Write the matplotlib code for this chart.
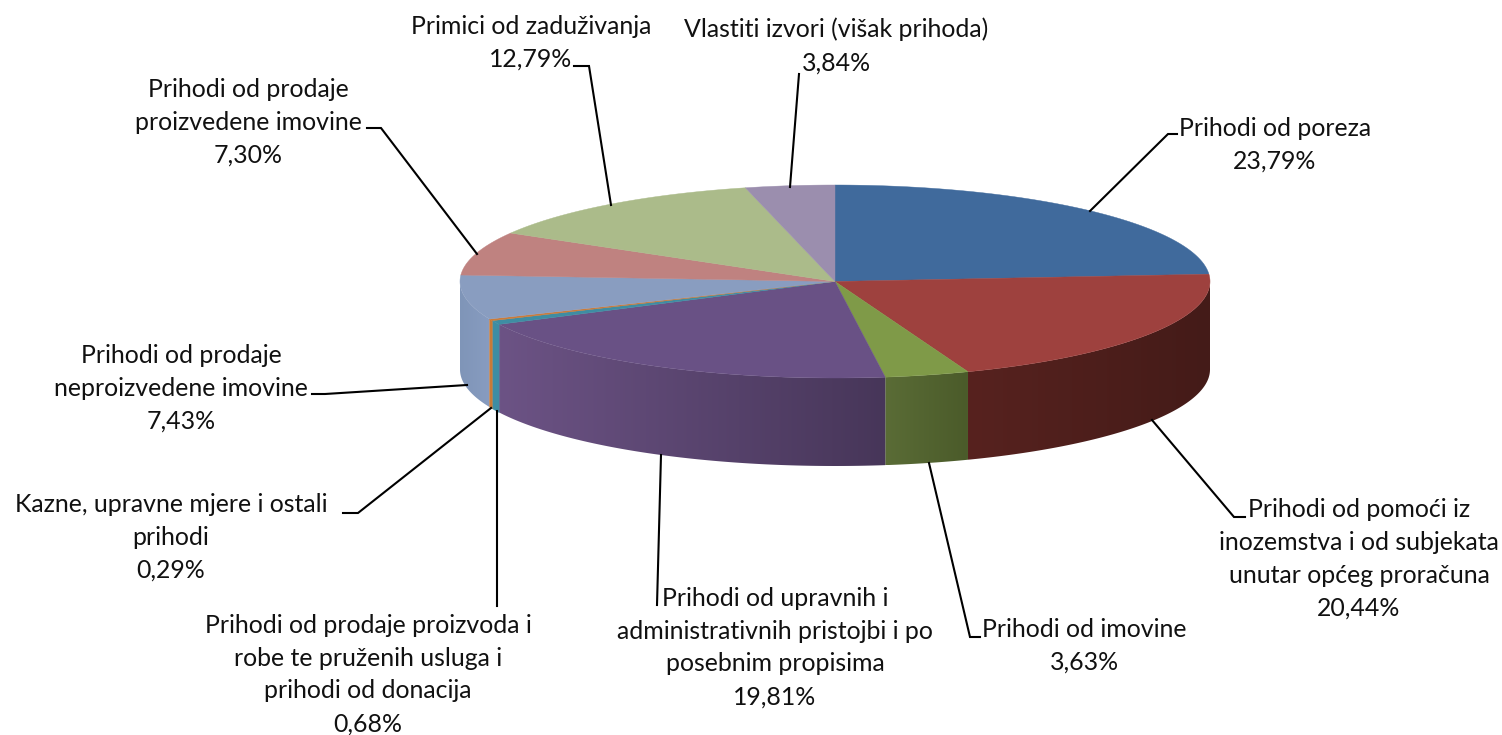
import numpy as np
import matplotlib
matplotlib.use("Agg")
import matplotlib.pyplot as plt
from matplotlib.colors import to_rgb
from matplotlib.patches import Polygon

categories = [
    "Prihodi od poreza",
    "Prihodi od pomoći iz\ninozemstva i od subjekata\nunutar općeg proračuna",
    "Prihodi od imovine",
    "Prihodi od upravnih i\nadministrativnih pristojbi i po\nposebnim propisima",
    "Prihodi od prodaje proizvoda i\nrobe te pruženih usluga i\nprihodi od donacija",
    "Kazne, upravne mjere i ostali\nprihodi",
    "Prihodi od prodaje\nneproizvedene imovine",
    "Prihodi od prodaje\nproizvedene imovine",
    "Primici od zaduživanja",
    "Vlastiti izvori (višak prihoda)",
]
values = [23.79, 20.44, 3.63, 19.81, 0.68, 0.29, 7.43, 7.30, 12.79, 3.84]
top_colors = ["#406A9C", "#9E413E", "#7F9A48", "#695185", "#3E8DA3",
              "#CC7B38", "#899DC0", "#BF8280", "#ABBB8A", "#9B8EAE"]
# side-wall shade at the left and at the right end of each slice
side_left = ["#2A4566", "#57221F", "#5A6C36", "#6C5385", "#3E8DA3",
             "#C97A36", "#7F95B8", "#7D5451", "#6F7A59", "#655C71"]
side_right = ["#2A4566", "#441B18", "#4B5B2A", "#473659", "#3E8DA3",
              "#C97A36", "#889CC0", "#7D5451", "#6F7A59", "#655C71"]
label_xy = [(1275, 145), (1359, 559), (1084, 646), (775, 647.5), (368, 674.5),
            (171, 537.5), (181, 388), (248, 122), (531, 42.5), (836, 46)]
leaders = [
    [(1090, 211), (1168, 134), (1177, 134)],
    [(1152, 420), (1234, 517), (1245, 517)],
    [(929, 463), (970, 637), (980, 637)],
    [(661, 455), (657, 605)],
    [(497, 411), (497, 606)],
    [(491, 408), (358, 513), (343, 513)],
    [(467, 385), (325, 394), (312, 394)],
    [(477, 254), (381, 128), (367, 128)],
    [(611, 205), (589, 66), (574, 66)],
    [(790, 187), (799, 74)],
]

CX, CY, RX, RY, DEPTH = 835.0, 281.5, 375.0, 96.5, 88.0


def rim(theta):
    return CX + RX * np.sin(theta), CY - RY * np.cos(theta)


fig = plt.figure(figsize=(15.02, 7.35), dpi=100)
ax = fig.add_axes([0, 0, 1, 1])
ax.axis("off")

edges = np.concatenate([[0], np.cumsum(values)]) / np.sum(values) * 2 * np.pi

# side walls: a horizontal shade clipped to the visible part of each slice
for i in range(len(values)):
    lo, hi = max(edges[i], np.pi / 2), min(edges[i + 1], 1.5 * np.pi)
    if hi <= lo:
        continue
    ts = np.linspace(lo, hi, 200)
    x, y = rim(ts)
    outline = np.vstack([np.column_stack([x, y]),
                         np.column_stack([x[::-1], y[::-1] + DEPTH])])
    if side_left[i] == side_right[i]:
        ax.add_patch(Polygon(outline, closed=True, facecolor=side_left[i],
                             edgecolor=side_left[i], linewidth=0.3, zorder=2.5))
        continue
    clip = Polygon(outline, closed=True, transform=ax.transData,
                   facecolor="none", edgecolor="none")
    ax.add_patch(clip)
    c0, c1 = np.array(to_rgb(side_left[i])), np.array(to_rgb(side_right[i]))
    ramp = np.linspace(0, 1, 128)[None, :, None]
    img = c0[None, None, :] + (c1 - c0)[None, None, :] * ramp
    im = ax.imshow(img, extent=(x.min(), x.max(), y.max() + DEPTH, y.min()),
                   aspect="auto", interpolation="bilinear", zorder=2)
    im.set_clip_path(clip)

ax.set_xlim(0, 1502)
ax.set_ylim(735, 0)

# top face
for i in range(len(values)):
    ts = np.linspace(edges[i], edges[i + 1], 200)
    x, y = rim(ts)
    pts = np.column_stack([np.r_[CX, x], np.r_[CY, y]])
    ax.add_patch(Polygon(pts, closed=True, facecolor=top_colors[i],
                         edgecolor=top_colors[i], linewidth=0.3, zorder=3))

# leader lines
for pts in leaders:
    xs, ys = zip(*pts)
    ax.plot(xs, ys, color="black", lw=1.5, solid_joinstyle="miter", zorder=4)

# labels
for name, val, (lx, ly) in zip(categories, values, label_xy):
    txt = f"{name}\n{val:.2f}%".replace(".", ",")
    ax.text(lx, ly, txt, ha="center", va="center", family="Lato",
            fontsize=17.9, color="#111111", linespacing=1.52, zorder=5)

fig.savefig("out.png", dpi=100, facecolor="white")
